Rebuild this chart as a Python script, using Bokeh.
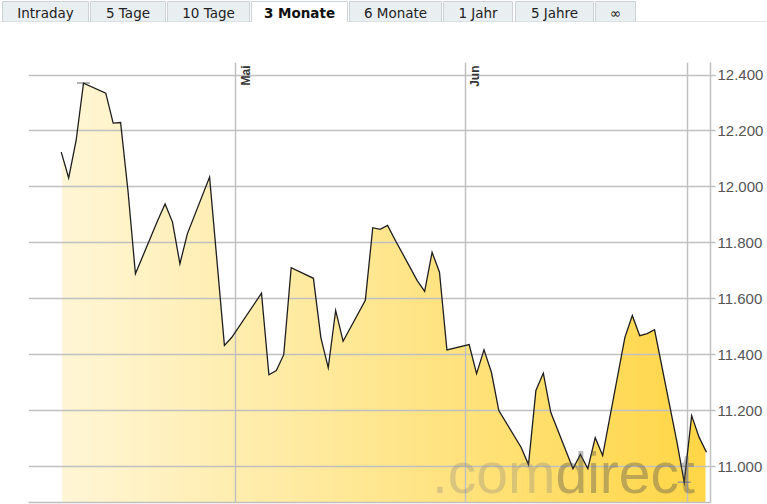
from datetime import datetime
import numpy as np
from bokeh.plotting import figure
from bokeh.models import Range1d, LinearAxis, FixedTicker, CustomJSTickFormatter, Grid, BoxAnnotation
from bokeh.core.properties import value
from bokeh.embed import file_html
from bokeh.resources import INLINE

# ---------------- data ----------------
dates = ["2015-04-07", "2015-04-08", "2015-04-09", "2015-04-10", "2015-04-13", "2015-04-14",
         "2015-04-15", "2015-04-16", "2015-04-17", "2015-04-20", "2015-04-21", "2015-04-22",
         "2015-04-23", "2015-04-24", "2015-04-27", "2015-04-29", "2015-04-30", "2015-05-04",
         "2015-05-05", "2015-05-06", "2015-05-07", "2015-05-08", "2015-05-11", "2015-05-12",
         "2015-05-13", "2015-05-14", "2015-05-15", "2015-05-18", "2015-05-19", "2015-05-20",
         "2015-05-21", "2015-05-22", "2015-05-25", "2015-05-26", "2015-05-27", "2015-05-28",
         "2015-05-29", "2015-06-01", "2015-06-02", "2015-06-03", "2015-06-04", "2015-06-05",
         "2015-06-08", "2015-06-09", "2015-06-10", "2015-06-11", "2015-06-12", "2015-06-15",
         "2015-06-16", "2015-06-17", "2015-06-18", "2015-06-19", "2015-06-22", "2015-06-23",
         "2015-06-24", "2015-06-25", "2015-06-26", "2015-06-29", "2015-06-30", "2015-07-01",
         "2015-07-02", "2015-07-03"]
closes = [12124, 12032, 12165, 12371, 12335, 12228,
          12230, 11985, 11689, 11880, 11939, 11874,
          11725, 11832, 12035, 11433, 11462, 11620,
          11328, 11343, 11400, 11711, 11673, 11462,
          11353, 11558, 11448, 11594, 11854, 11848,
          11862, 11811, 11665, 11626, 11766, 11695,
          11417, 11436, 11332, 11417, 11337, 11200,
          11069, 11007, 11272, 11334, 11194, 10992,
          11043, 10992, 11103, 11039, 11462, 11540,
          11468, 11475, 11489, 11090, 10944, 11182,
          11105, 11051]
month_starts = ["2015-05-01", "2015-06-01", "2015-07-01"]
month_labels = ["Mai", "Jun"]
y_ticks = [11000, 11200, 11400, 11600, 11800, 12000, 12200, 12400]
tab_labels = ["Intraday", "5 Tage", "10 Tage", "3 Monate", "6 Monate", "1 Jahr", "5 Jahre", "\u221e"]
active_tab = "3 Monate"

# ---------------- derived ----------------
xdt = np.array(dates, dtype="datetime64[ms]") + np.timedelta64(12, "h")
xms = xdt.astype("int64").astype(float)
vals = np.array(closes, dtype=float)
month_dt = np.array(month_starts, dtype="datetime64[ms]")
month_ms = month_dt.astype("int64").astype(float)

x_start = datetime(2015, 4, 3, 2)
x_end = datetime(2015, 7, 4, 1)
x_start_ms = (np.datetime64(x_start, "ms")).astype("int64").astype(float)
x_end_ms = (np.datetime64(x_end, "ms")).astype("int64").astype(float)
y_start, y_end = 10871.3, 12444.7
px_per_unit = 440.0 / (y_end - y_start)
ms_per_px = (x_end_ms - x_start_ms) / 682.0

GRID = "#c0c0c0"
W = 767

# ---------------- tabs row ----------------
t = figure(width=W, height=22, x_range=Range1d(0, W), y_range=Range1d(22, 0),
           x_axis_location=None, y_axis_location=None, toolbar_location=None,
           output_backend="svg", min_border=0, title=None)
t.center = []
t.outline_line_color = None
t.background_fill_color = "white"
t.border_fill_color = "white"

tab_edges = [(2, 88), (90, 165), (167, 249), (251, 347), (349, 441), (443, 512), (515, 593), (595, 635)]
t.segment(x0=[0], y0=[21.5], x1=[W], y1=[21.5], line_color="#c8c8c8", line_width=1)
inact = [i for i, l in enumerate(tab_labels) if l != active_tab]
act = [i for i, l in enumerate(tab_labels) if l == active_tab]
t.quad(left=[tab_edges[i][0] for i in inact], right=[tab_edges[i][1] for i in inact],
       top=1, bottom=21.5, fill_color="#e9eef1", line_color="#ccd2d6", line_width=1)
t.quad(left=[tab_edges[i][0] for i in act], right=[tab_edges[i][1] for i in act],
       top=1, bottom=22, fill_color="white", line_color="#ccd2d6", line_width=1)
t.segment(x0=[tab_edges[i][0] + 0.5 for i in act], y0=[21.5] * len(act),
          x1=[tab_edges[i][1] - 0.5 for i in act], y1=[21.5] * len(act),
          line_color="white", line_width=2)
t.text(x=[(tab_edges[i][0] + tab_edges[i][1]) / 2 for i in inact], y=[12] * len(inact),
       text=[tab_labels[i] for i in inact], text_align="center", text_baseline="middle",
       text_font=value("DejaVu Sans"), text_font_size="13.5px", text_color="#222222")
t.text(x=[(tab_edges[i][0] + tab_edges[i][1]) / 2 for i in act], y=[12] * len(act),
       text=[tab_labels[i] for i in act], text_align="center", text_baseline="middle",
       text_font=value("DejaVu Sans"), text_font_style="bold", text_font_size="13.5px",
       text_color="#111111")

# ---------------- chart ----------------
p = figure(width=W, height=482, x_range=Range1d(x_start, x_end), y_range=Range1d(y_start, y_end),
           x_axis_location=None, y_axis_location=None, toolbar_location=None,
           output_backend="svg", title=None,
           min_border_left=28, min_border_right=57, min_border_top=40, min_border_bottom=2)
p.center = []
p.outline_line_color = None
p.background_fill_color = "white"
p.border_fill_color = "white"

# container's left border
p.add_layout(BoxAnnotation(left=1, right=2, top=0, bottom=482,
                           left_units="canvas", right_units="canvas",
                           top_units="canvas", bottom_units="canvas",
                           fill_color="#cccccc", fill_alpha=1.0, line_color=None))

# gradient fill below the line
n = 220
edges = np.linspace(xms[0], xms[-1], n + 1)
pad = (edges[1] - edges[0]) * 0.25
tt = (np.arange(n) + 0.5) / n
c0 = np.array([255, 246, 214])
c1 = np.array([255, 214, 70])
cols = ["#%02x%02x%02x" % tuple(int(round(v)) for v in (c0 + (c1 - c0) * ti)) for ti in tt]
lefts = edges[:-1].copy()
rights = edges[1:].copy()
rights[:-1] += pad
lefts[0] += 1.0 * ms_per_px
rights[-1] -= 1.0 * ms_per_px
strip_top = y_end - 6 / px_per_unit
p.quad(left=lefts, right=rights, bottom=y_start - 50, top=strip_top,
       fill_color=cols, line_color=None, level="image")
p.varea(x=xdt, y1=vals, y2=y_end + 50, fill_color="white", level="image")

# grids
p.add_layout(Grid(dimension=1, ticker=FixedTicker(ticks=y_ticks),
                  grid_line_color=GRID, grid_line_width=1.5), "center")
p.add_layout(Grid(dimension=0, ticker=FixedTicker(ticks=list(month_ms)),
                  grid_line_color=GRID, grid_line_width=1.5), "center")

# axes
fmt = CustomJSTickFormatter(code=r"""
const s = Math.round(tick).toString();
return s.replace(/\B(?=(\d{3})+(?!\d))/g, ".");
""")
yaxis = LinearAxis(ticker=FixedTicker(ticks=y_ticks), formatter=fmt,
                   axis_line_color=GRID, axis_line_width=1.5,
                   major_tick_line_color=GRID, major_tick_line_width=1.5,
                   major_tick_out=5, major_tick_in=0, minor_tick_out=0, minor_tick_in=0,
                   major_label_standoff=2, major_label_text_font="Liberation Sans",
                   major_label_text_font_size="15px", major_label_text_color="#555555")
p.add_layout(yaxis, "right")
xaxis = LinearAxis(ticker=FixedTicker(ticks=[]), axis_line_color=GRID, axis_line_width=1.5,
                   major_tick_out=0, major_tick_in=0, minor_tick_out=0, minor_tick_in=0,
                   major_label_text_font_size="0px", major_label_standoff=0)
p.add_layout(xaxis, "below")

# high / low markers
i_max = int(np.argmax(vals))
i_min = int(np.argmin(vals))
p.scatter(x=[xdt[i_max], xdt[i_min]], y=[vals[i_max], vals[i_min]], marker="dash",
          size=13, line_color="#9a9a9a", line_width=1.5)

# price line
p.line(x=xdt, y=vals, line_color="#1e1e1e", line_width=1.3, line_join="miter")

# month labels
p.text(x=month_dt[:len(month_labels)], y=[y_end] * len(month_labels), text=month_labels,
       angle=np.pi / 2, text_align="right", text_baseline="top", x_offset=3, y_offset=3,
       text_font=value("Liberation Sans"), text_font_style="bold", text_font_size="12px",
       text_color="#333333")

# watermark (bottom right of the plot area)
wm_y = y_start + 30 / px_per_unit
p.text(x=[x_end_ms], y=[wm_y], x_offset=-155, text=[".com"], text_align="right",
       text_baseline="alphabetic", text_font=value("Liberation Sans"),
       text_font_size="57px", text_color="#808080", text_alpha=0.30)
p.text(x=[x_end_ms], y=[wm_y], x_offset=-155, text=["direct"], text_align="left",
       text_baseline="alphabetic", text_font=value("Liberation Sans"),
       text_font_size="57px", text_color="#505050", text_alpha=0.38)

open("out.html", "w").write(file_html([t, p], INLINE))
